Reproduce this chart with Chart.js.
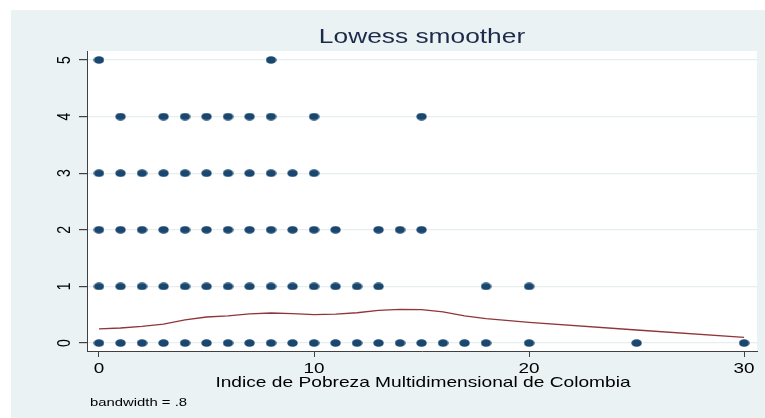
<!DOCTYPE html>
<html>
<head>
<meta charset="utf-8">
<script src="https://cdn.jsdelivr.net/npm/chart.js@4/dist/chart.umd.min.js"></script>
<style>
  html, body { margin: 0; padding: 0; background: #ffffff; }
  #wrap { position: relative; width: 765px; height: 418px; }
  canvas { display: block; }
</style>
</head>
<body>
<div id="wrap"><canvas id="c" width="765" height="418"></canvas></div>
<script>
// Observed x values (index) at each response level
const xAtY0 = [0,1,2,3,4,5,6,7,8,9,10,11,12,13,14,15,16,17,18,20,25,30];
const xAtY1 = [0,1,2,3,4,5,6,7,8,9,10,11,12,13,18,20];
const xAtY2 = [0,1,2,3,4,5,6,7,8,9,10,11,13,14,15];
const xAtY3 = [0,1,2,3,4,5,6,7,8,9,10];
const xAtY4 = [1,3,4,5,6,7,8,10,15];
const xAtY5 = [0,8];

// Lowess fitted curve
const lowessX = [0,1,2,3,4,5,6,7,8,9,10,11,12,13,14,15,16,17,18,20,25,30];
const lowessY = [0.25,0.265,0.295,0.335,0.41,0.46,0.48,0.515,0.53,0.52,0.50,0.51,0.535,0.575,0.595,0.59,0.55,0.48,0.43,0.365,0.23,0.10];

// Axis ticks
const xTicks = [0,10,20,30];
const yTicks = [0,1,2,3,4,5];

const titleText = 'Lowess smoother';
const xTitleText = 'Indice de Pobreza Multidimensional de Colombia';
const noteText = 'bandwidth = .8';

const levels = [xAtY0, xAtY1, xAtY2, xAtY3, xAtY4, xAtY5];
const scatterPts = [];
levels.forEach((xs, y) => xs.forEach(x => scatterPts.push({x: x, y: y})));
const linePts = lowessX.map((x, i) => ({x: x, y: lowessY[i]}));

// Elliptical marker
const marker = document.createElement('canvas');
marker.width = 11; marker.height = 8;
(function () {
  const m = marker.getContext('2d');
  m.fillStyle = '#1a476f';
  m.beginPath();
  m.ellipse(5.5, 4, 5.2, 3.8, 0, 0, Math.PI * 2);
  m.fill();
})();

const SX = 1.35; // horizontal text stretch
const FONT = '"Liberation Sans", Arial, sans-serif';

function stretchedText(ctx, text, x, y, size, color, align, rot) {
  ctx.save();
  ctx.translate(x, y);
  ctx.scale(SX, 1);
  if (rot) ctx.rotate(rot);
  ctx.font = size + 'px ' + FONT;
  ctx.fillStyle = color;
  ctx.textAlign = align || 'center';
  ctx.textBaseline = 'middle';
  ctx.fillText(text, 0, 0);
  ctx.restore();
}

const frame = {
  id: 'frame',
  beforeDraw(chart) {
    const ctx = chart.ctx;
    const a = chart.chartArea;
    ctx.save();
    ctx.fillStyle = '#ffffff';
    ctx.fillRect(0, 0, chart.width, chart.height);
    ctx.fillStyle = '#eaf2f3';
    ctx.fillRect(11, 10, chart.width - 11, chart.height - 10);
    ctx.fillStyle = '#ffffff';
    ctx.fillRect(a.left, a.top, a.right - a.left, a.bottom - a.top);
    ctx.restore();
  },
  afterDraw(chart) {
    const ctx = chart.ctx;
    const xs = chart.scales.x, ys = chart.scales.y;
    stretchedText(ctx, titleText, 422, 38, 19.5, '#1c2b4a', 'center');
    xTicks.forEach(v => stretchedText(ctx, String(v), xs.getPixelForValue(v), 369, 14, '#000000', 'center'));
    yTicks.forEach(v => stretchedText(ctx, String(v), 65, ys.getPixelForValue(v), 14, '#000000', 'center', -Math.PI / 2));
    stretchedText(ctx, xTitleText, 423, 383, 14.2, '#000000', 'center');
    stretchedText(ctx, noteText, 90, 403, 11, '#000000', 'left');
  }
};

new Chart(document.getElementById('c'), {
  type: 'scatter',
  data: {
    datasets: [
      {
        type: 'scatter',
        data: scatterPts,
        pointStyle: marker,
        pointRadius: 5,
        pointHoverRadius: 5,
        order: 2
      },
      {
        type: 'line',
        data: linePts,
        borderColor: '#90353b',
        borderWidth: 1.3,
        pointRadius: 0,
        tension: 0,
        fill: false,
        order: 1
      }
    ]
  },
  options: {
    responsive: false,
    animation: false,
    events: [],
    layout: { padding: { top: 51, right: 8, left: 0, bottom: 0 } },
    plugins: { legend: { display: false }, title: { display: false }, tooltip: { enabled: false } },
    scales: {
      x: {
        type: 'linear',
        min: -0.558,
        max: 30.6,
        afterBuildTicks: s => { s.ticks = xTicks.map(v => ({value: v})); },
        afterFit: s => { s.height = 67; },
        ticks: { display: false },
        grid: { drawOnChartArea: false, color: '#404040', tickColor: '#404040', tickLength: 6, lineWidth: 1 },
        border: { display: true, color: '#404040', width: 1 }
      },
      y: {
        type: 'linear',
        min: -0.141,
        max: 5.159,
        afterBuildTicks: s => { s.ticks = yTicks.map(v => ({value: v})); },
        afterFit: s => { s.width = 87; },
        ticks: { display: false },
        grid: { color: '#e6eef0', tickColor: '#404040', tickLength: 8, lineWidth: 1.2 },
        border: { display: true, color: '#404040', width: 1 }
      }
    }
  },
  plugins: [frame]
});
</script>
</body>
</html>
